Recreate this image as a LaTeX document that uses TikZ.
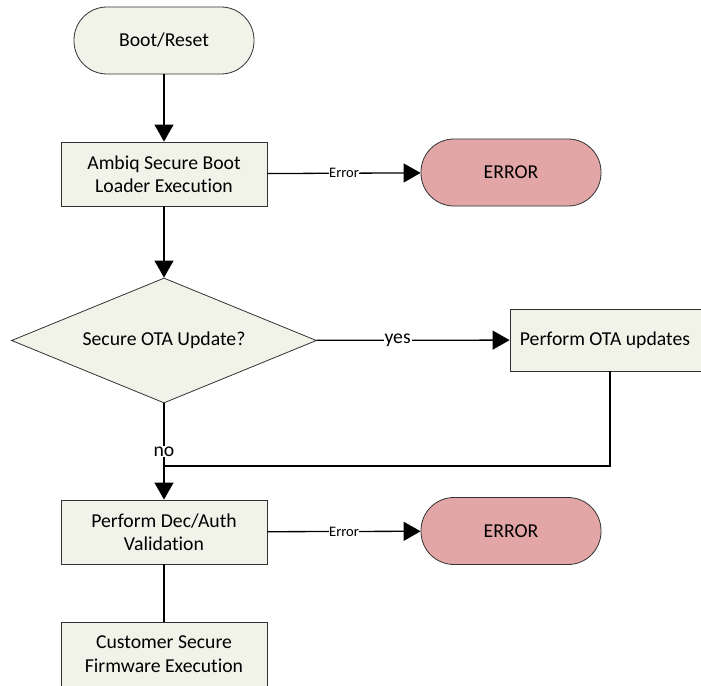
\documentclass[tikz,border=0pt]{standalone}
\usepackage{fontspec}
\setmainfont{Carlito}[Ligatures=NoCommon]
\usetikzlibrary{shapes.geometric,arrows.meta}
\definecolor{boxfill}{RGB}{241,243,233}
\definecolor{errfill}{RGB}{227,166,166}
\definecolor{edge}{RGB}{50,50,50}
\begin{document}
\begin{tikzpicture}[x=1pt,y=-1pt,
  every node/.style={font=\fontsize{19.7}{23.5}\selectfont, text=black},
  proc/.style={draw=edge, fill=boxfill, minimum width=206pt, minimum height=64pt, inner sep=0pt, align=center, line width=0.8pt},
  term/.style={draw=edge, fill=#1, minimum width=180pt, minimum height=67pt, rounded corners=33pt, inner sep=0pt, line width=0.8pt},
  decis/.style={diamond, draw=edge, fill=boxfill, minimum width=305pt, minimum height=125pt, inner sep=0pt, aspect=2.44, line width=0.8pt},
  conn/.style={line width=1.3pt, draw=black},
  arr/.style={conn, -{Triangle[length=17pt,width=19pt]}},
  lbl/.style={fill=white, inner sep=0.5pt, font=\fontsize{14.5}{16}\selectfont},
  lblbig/.style={fill=white, inner sep=1pt}]
\useasboundingbox (0,0) rectangle (701,685);
\begin{scope}
\clip (0,0) rectangle (701,685);
\node[term=boxfill] (boot) at (164,40.5) {Boot/Reset};
\node[proc] (sbl) at (164,174) {Ambiq Secure Boot\\Loader Execution};
\node[term=errfill] (err1) at (511,172.5) {ERROR};
\node[decis] (dia) at (164,340.5) {Secure OTA Update?};
\node[proc, minimum width=200pt, minimum height=62pt] (ota) at (610,340) {\hspace*{-10pt}Perform OTA updates};
\coordinate (m) at (164,466);
\node[proc] (dec) at (164,532) {Perform Dec/Auth\\Validation};
\node[term=errfill] (err2) at (511,531) {ERROR};
\node[proc] (cust) at (164,654) {Customer Secure\\Firmware Execution};

\draw[arr] (boot) -- (sbl);
\draw[arr] (sbl) -- node[lbl] {Error} (err1);
\draw[arr] (sbl) -- (dia);
\draw[arr] (dia) -- node[lblbig, pos=0.42] {yes} (ota);
\draw[arr] (dia.south) -- node[lblbig, pos=0.5] {no} (dec.north);
\draw[conn] (ota.south) |- (m);
\draw[arr] (dec) -- node[lbl] {Error} (err2);
\draw[conn] (dec) -- (cust);
\end{scope}
\end{tikzpicture}
\end{document}
